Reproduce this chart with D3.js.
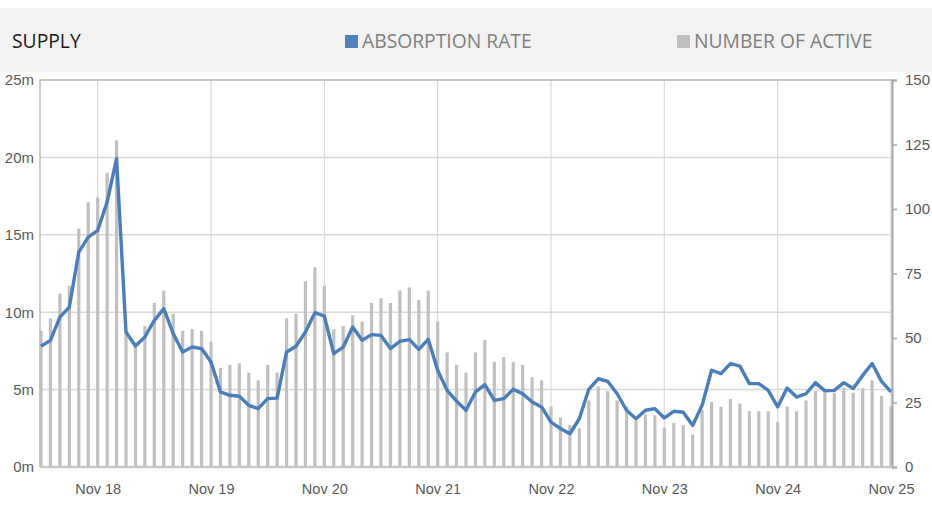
<!DOCTYPE html>
<html>
<head>
<meta charset="utf-8">
<script src="https://cdn.jsdelivr.net/npm/d3@7"></script>
<style>
  html, body { margin: 0; padding: 0; background: #fff; }
  svg { display: block; }
  .axis text { font-family: "Liberation Sans Narrow", "Liberation Sans", Arial, sans-serif; fill: #595959; }
  .head text { font-family: "Open Sans", sans-serif; }
</style>
</head>
<body>
<svg id="chart"></svg>
<script>
(function () {
  'use strict';

  // monthly, May 2018 .. Nov 2025
  var firstMonth = new Date(2018, 4, 1);
  var endMonth = new Date(2025, 11, 1);

  // number of active (bars, left axis, millions)
  var activeValues = [
    8.8, 9.6, 11.2, 11.7, 15.4, 17.1, 17.4, 19.0, 21.1, 8.7,
    7.8, 9.1, 10.6, 11.4, 9.9, 8.8, 8.9, 8.8, 8.1, 6.4,
    6.6, 6.7, 6.1, 5.6, 6.6, 6.1, 9.6, 9.9, 12.0, 12.9,
    11.7, 8.9, 9.1, 9.8, 9.4, 10.6, 10.9, 10.6, 11.4, 11.6,
    10.8, 11.4, 9.4, 7.4, 6.6, 6.1, 7.4, 8.2, 6.8, 7.1,
    6.8, 6.6, 5.8, 5.6, 3.9, 3.2, 2.7, 2.5, 4.3, 5.2,
    4.9, 4.3, 3.9, 3.0, 3.4, 3.35, 2.55, 2.85, 2.7, 2.1,
    3.7, 4.2, 3.9, 4.4, 4.1, 3.6, 3.6, 3.6, 2.9, 3.9,
    3.6, 4.3, 4.9, 4.8, 4.8, 5.1, 4.8, 5.1, 5.6, 4.6,
    3.9
  ];

  // absorption rate (line, right axis)
  var absorptionValues = [
    46.8, 49.1, 58.1, 62.0, 83.3, 89.1, 91.7, 102.7, 119.5, 52.3,
    46.9, 50.4, 56.8, 61.4, 51.7, 44.6, 46.5, 45.9, 40.7, 29.1,
    27.8, 27.4, 23.9, 22.6, 26.5, 26.7, 44.6, 46.8, 52.3, 59.8,
    58.5, 43.9, 46.5, 54.3, 49.1, 51.3, 51.0, 45.9, 48.7, 49.4,
    45.6, 49.5, 37.5, 29.7, 25.5, 22.0, 29.1, 31.9, 25.8, 26.5,
    30.1, 28.4, 25.2, 23.3, 17.4, 14.9, 12.9, 18.7, 30.1, 34.2,
    33.2, 28.4, 22.0, 18.7, 22.0, 22.6, 19.0, 21.6, 21.2, 16.1,
    23.9, 37.5, 36.2, 40.1, 39.1, 32.3, 32.3, 29.7, 23.3, 30.6,
    27.1, 28.4, 32.7, 29.5, 29.7, 32.7, 30.4, 35.5, 40.1, 33.2,
    29.1
  ];

  var leftTicks = [0, 5, 10, 15, 20, 25];
  var rightTicks = [0, 25, 50, 75, 100, 125, 150];
  var xTickLabels = ['Nov 18', 'Nov 19', 'Nov 20', 'Nov 21', 'Nov 22', 'Nov 23', 'Nov 24', 'Nov 25'];

  var legendItems = [
    {label: 'ABSORPTION RATE', color: '#4f81bd', x: 345},
    {label: 'NUMBER OF ACTIVE', color: '#bfbfbf', x: 677}
  ];

  var width = 932;
  var height = 508;
  var plot = {left: 40, right: 892, top: 80, bottom: 467};

  var months = d3.timeMonth.range(firstMonth, endMonth);
  var fmt = d3.timeFormat('%b %y');
  var rows = months.map(function (m, i) {
    return {key: fmt(m), date: m, active: activeValues[i], absorption: absorptionValues[i]};
  });

  var svg = d3.select('#chart')
    .attr('width', width)
    .attr('height', height);

  // header band
  var head = svg.append('g').attr('class', 'head');
  head.append('rect')
    .attr('x', 0).attr('y', 8)
    .attr('width', width).attr('height', 64)
    .attr('fill', '#f2f2f2');
  head.append('text')
    .attr('x', 12).attr('y', 48)
    .attr('font-size', 19.3)
    .attr('fill', '#1a1a1a')
    .text('SUPPLY');

  var leg = head.selectAll('g.legend')
    .data(legendItems)
    .enter()
    .append('g')
    .attr('class', 'legend')
    .attr('transform', function (d) { return 'translate(' + d.x + ',0)'; });
  leg.append('rect')
    .attr('x', 0).attr('y', 35)
    .attr('width', 13).attr('height', 13)
    .attr('fill', function (d) { return d.color; });
  leg.append('text')
    .attr('x', 17).attr('y', 48)
    .attr('font-size', 19.3)
    .attr('fill', '#7f7f7f')
    .text(function (d) { return d.label; });

  var x = d3.scalePoint()
    .domain(rows.map(function (d) { return d.key; }))
    .range([41, 891]);

  var yLeft = d3.scaleLinear()
    .domain([0, 25])
    .range([plot.bottom, plot.top]);

  var yRight = d3.scaleLinear()
    .domain([0, 150])
    .range([plot.bottom, plot.top]);

  // gridlines
  var grid = svg.append('g').attr('class', 'grid');
  grid.selectAll('line.h')
    .data(leftTicks.slice(1))
    .enter()
    .append('line')
    .attr('class', 'h')
    .attr('x1', plot.left).attr('x2', plot.right)
    .attr('y1', yLeft).attr('y2', yLeft)
    .attr('stroke', '#d9d9d9')
    .attr('stroke-width', 1.5);
  grid.selectAll('line.v')
    .data(xTickLabels)
    .enter()
    .append('line')
    .attr('class', 'v')
    .attr('x1', x).attr('x2', x)
    .attr('y1', plot.top).attr('y2', plot.bottom)
    .attr('stroke', '#d9d9d9')
    .attr('stroke-width', 1.2);

  // bars
  svg.append('g')
    .selectAll('rect')
    .data(rows)
    .enter()
    .append('rect')
    .attr('x', function (d) { return x(d.key) - 1.6; })
    .attr('width', 3.2)
    .attr('y', function (d) { return yLeft(d.active); })
    .attr('height', function (d) { return plot.bottom - yLeft(d.active); })
    .attr('fill', '#c0c0c0');

  // frame
  svg.append('path')
    .attr('d', 'M' + plot.left + ',' + plot.bottom + 'V' + plot.top + 'H' + plot.right)
    .attr('fill', 'none')
    .attr('stroke', '#bfbfbf')
    .attr('stroke-width', 1.5);

  // line
  var line = d3.line()
    .x(function (d) { return x(d.key); })
    .y(function (d) { return yRight(d.absorption); });
  svg.append('path')
    .datum(rows)
    .attr('d', line)
    .attr('fill', 'none')
    .attr('stroke', '#4a7ebb')
    .attr('stroke-width', 3.4)
    .attr('stroke-linejoin', 'round');

  // axes
  var gl = svg.append('g')
    .attr('class', 'axis')
    .attr('transform', 'translate(' + plot.left + ',0)')
    .call(d3.axisLeft(yLeft).tickValues(leftTicks).tickSize(0).tickPadding(6)
      .tickFormat(function (d) { return d + 'm'; }));
  gl.select('.domain').remove();
  gl.selectAll('text').attr('font-size', 15);

  var gr = svg.append('g')
    .attr('class', 'axis')
    .attr('transform', 'translate(' + plot.right + ',0)')
    .call(d3.axisRight(yRight).tickValues(rightTicks).tickSize(5).tickPadding(8));
  gr.select('.domain').attr('stroke', '#a6a6a6').attr('stroke-width', 2);
  gr.selectAll('.tick line').attr('stroke', '#a6a6a6').attr('stroke-width', 1.5);
  gr.selectAll('text').attr('font-size', 15);

  var gb = svg.append('g')
    .attr('class', 'axis')
    .attr('transform', 'translate(0,' + plot.bottom + ')')
    .call(d3.axisBottom(x).tickValues(xTickLabels).tickSize(0).tickPadding(17));
  gb.select('.domain')
    .attr('d', 'M' + plot.left + ',0H' + plot.right)
    .attr('stroke', '#c8c8c8')
    .attr('stroke-width', 2.5);
  gb.selectAll('text').attr('font-size', 14.5);
}());
</script>
</body>
</html>
